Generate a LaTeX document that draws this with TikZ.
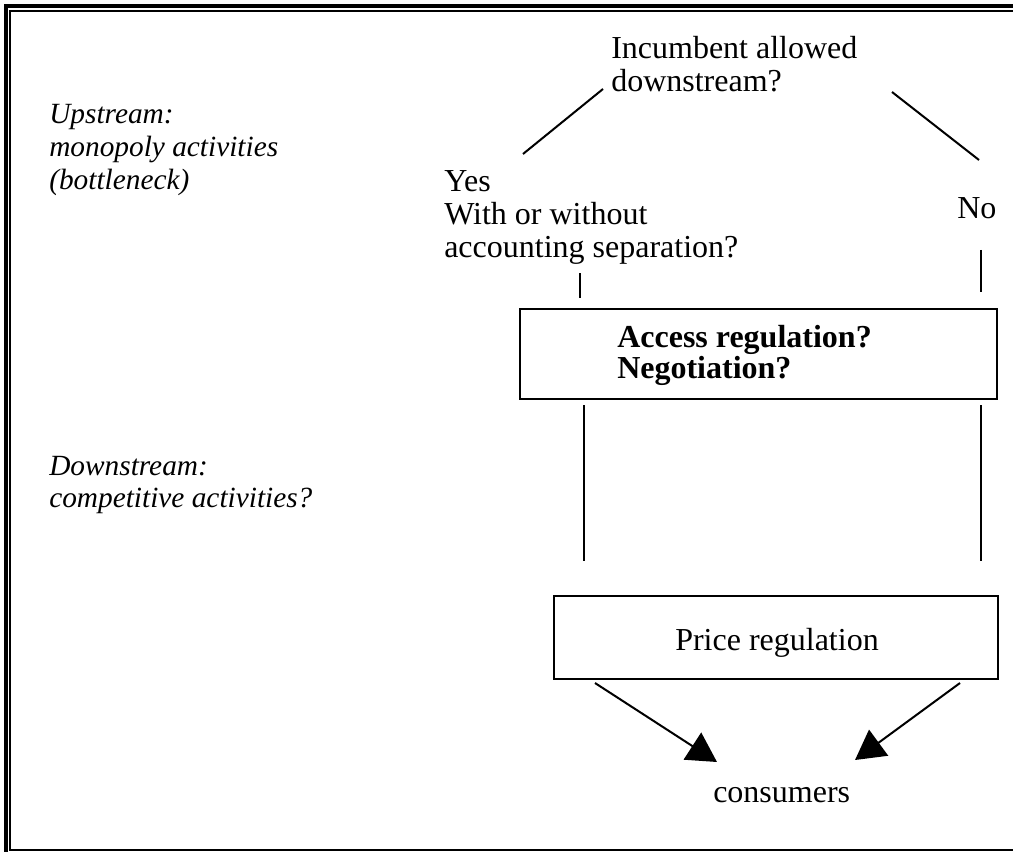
\documentclass[tikz,border=0pt]{standalone}
\usepackage{fontspec}
\setmainfont{Liberation Serif}
\usetikzlibrary{arrows.meta}
\newcommand\stk[1]{\vtop{\tabskip=0pt\halign{##\hfil\cr#1\crcr}}}
\begin{document}
\begin{tikzpicture}[x=0.75pt,y=-0.75pt,
  txt/.style={anchor=base west, inner sep=0pt, font=\fontsize{24}{24.4}\selectfont},
  itx/.style={anchor=base west, inner sep=0pt, font=\fontsize{22}{24.4}\selectfont\itshape},
  bld/.style={anchor=base west, inner sep=0pt, font=\fontsize{24}{23.3}\selectfont\bfseries},
  conn/.style={line width=1.5pt},
  arr/.style={line width=1.5pt, -{Triangle[length=22pt,width=24pt]}},
  box/.style={draw, line width=1.5pt, inner sep=0pt, anchor=north west}]
\useasboundingbox (0,0) rectangle (1013,852);
% frame
\draw[line width=2.4pt, line join=miter] (1013,6) -- (6,6) -- (6,852);
\draw[line width=1.6pt, line join=miter] (1013,11) -- (10,11) -- (10,850) -- (1013,850);
% texts
\node[txt] (q) at (611,59) {\stk{Incumbent allowed\cr downstream?}};
\node[txt] (yes) at (444,192) {\stk{Yes\cr With or without\cr accounting separation?}};
\node[txt] (no) at (957,219) {No};
\node[itx] (up) at (49,124) {\stk{Upstream:\cr monopoly activities\cr (bottleneck)}};
\node[itx] (down) at (49,475) {\stk{Downstream:\cr competitive activities?}};
% boxes
\node[box, minimum width=357.75pt, minimum height=67.5pt] (access) at (519,308) {};
\node[bld] (acctext) at (617,347) {\stk{Access regulation?\cr Negotiation?}};
\node[box, minimum width=333pt, minimum height=62.25pt] (price) at (553,595) {};
\node[txt, anchor=base] (pricetext) at (777,650) {Price regulation};
\node[txt] (cons) at (713,802) {consumers};
% connector ends
\coordinate (ya) at (523,154); \coordinate (yb) at (603,89);
\coordinate (na) at (892,92); \coordinate (nb) at (979,160);
\coordinate (y1) at (580,273); \coordinate (y2) at (580,298);
\coordinate (n1) at (981,250); \coordinate (n2) at (981,292);
\coordinate (d1) at (584,405); \coordinate (d2) at (584,561);
\coordinate (e1) at (981,405); \coordinate (e2) at (981,561);
\coordinate (a1) at (595,683); \coordinate (a2) at (717,762);
\coordinate (b1) at (960,683); \coordinate (b2) at (855,760);
\draw[conn] (ya) -- (yb);
\draw[conn] (na) -- (nb);
\draw[conn] (y1) -- (y2);
\draw[conn] (n1) -- (n2);
\draw[conn] (d1) -- (d2);
\draw[conn] (e1) -- (e2);
\draw[arr] (a1) -- (a2);
\draw[arr] (b1) -- (b2);
\end{tikzpicture}
\end{document}
